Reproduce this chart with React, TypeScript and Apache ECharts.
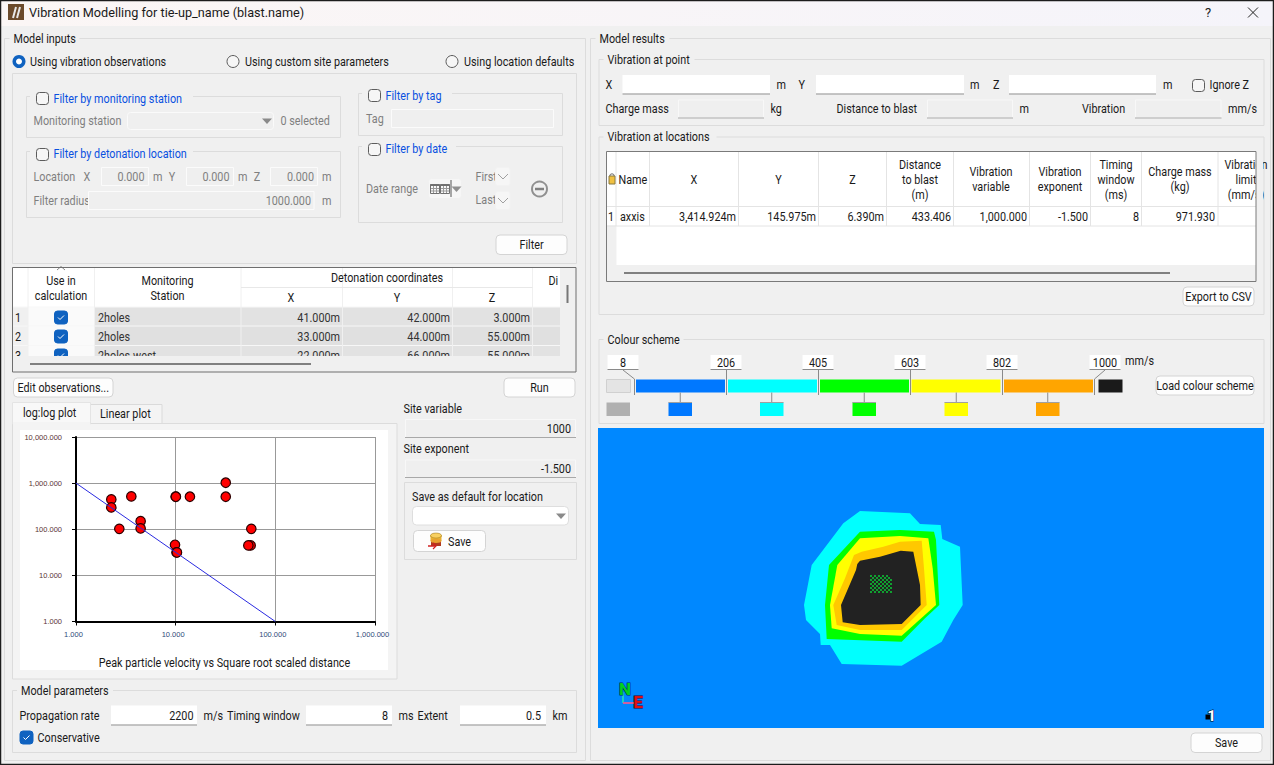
import React, { useEffect, useRef } from "react";
import * as echarts from "echarts";

// ---- chart data ----
const plotTitle = "Peak particle velocity vs Square root scaled distance";
const scaledDistance = [2.26, 2.26, 2.72, 3.59, 4.45, 4.45, 10, 10.05, 13.9, 31.8, 31.8, 57.4, 56.5, 53.6, 9.85, 10.2, 10.3];
const particleVelocity = [444, 298, 102, 516, 150, 104, 507, 507, 507, 1020, 507, 102, 44.6, 44.6, 46, 31.4, 31.4];
const fitDistance = [1, 100];
const fitVelocity = [1000, 1];

const schemeValues = ["8", "206", "405", "603", "802", "1000"];
const schemeColours = ["#0078ff", "#00ffff", "#00ff00", "#ffff00", "#ffa500"];

const cyanBand = [[262, 83], [312, 85.3], [322, 96], [342.7, 97], [344.3, 111], [362, 118.7], [364.7, 177], [355.3, 192], [343.7, 213.7], [303.7, 237.7], [243.7, 236], [232, 217], [222.7, 217], [222, 206], [208, 192], [206, 177], [213.7, 137], [245.3, 95.3]];
const greenBand = [[262, 103.7], [302, 102], [336, 103.7], [338, 112], [341.3, 177], [327, 190.3], [303.7, 213.7], [228.7, 211], [227, 177], [231, 137]];
const yellowBand = [[262, 110.3], [302, 108], [330.3, 110.3], [334.7, 140.3], [338, 177], [303.7, 207.7], [262, 206], [233.7, 200.3], [232, 177], [239.3, 137]];
const orangeBand = [[263.7, 123.7], [285.3, 118.7], [302, 113.7], [323.7, 112.7], [326, 140.3], [328.7, 177], [303.7, 202], [262, 202], [238.7, 197], [235.3, 177], [247, 150.3], [256, 127]];
const darkBand = [[262, 132.7], [282, 128.7], [302.7, 122.7], [315.3, 123.7], [322, 157], [322.7, 177], [303.7, 196], [262, 197], [244.7, 194.3], [243, 177], [258, 142], [259.3, 136]];
const contourBands = [cyanBand, greenBand, yellowBand, orangeBand, darkBand];
const contourColours = ["#00ffff", "#00ff00", "#ffff00", "#ffc800", "#222222"];

const holeRows = [
  "x.x.x.x.x..",
  ".x.x.x.x.x.",
  "x.x.x.x.x.x",
  ".x.x.x.x.x.",
  "x.x.x.x.x.x",
  ".x.x.x.x.x.",
  "x.x.x.x.x.x",
  ".x.x.x.x.x.",
  "x.x.x.x.x.x",
];

const stationRows = [
  ["1", "2holes", "41.000m", "42.000m", "3.000m"],
  ["2", "2holes", "33.000m", "44.000m", "55.000m"],
  ["3", "2holes-west", "22.000m", "66.000m", "55.000m"],
];
const locationRow = ["1", "axxis", "3,414.924m", "145.975m", "6.390m", "433.406", "1,000.000", "-1.500", "8", "971.930"];

const FONT = "Roboto";
const PANEL = "#f0f0f0";
const TEXT = "#1a1a1a";
const GREY = "#7f7f7f";
const BLUE = "#0a50e0";
const TICK = "#0f62c0";
const NARROW = 0.9;

function buildGraphic() {
  const g: any[] = [];
  const rect = (x1: number, y1: number, x2: number, y2: number, fill: string, stroke?: string, r = 0, lineWidth = 1) =>
    g.push({ type: "rect", silent: true, shape: { x: x1, y: y1, width: x2 - x1, height: y2 - y1, r }, style: { fill, stroke: stroke || "none", lineWidth } });
  const line = (x1: number, y1: number, x2: number, y2: number, stroke: string, lineWidth = 1) =>
    g.push({ type: "line", silent: true, shape: { x1, y1, x2, y2 }, style: { stroke, lineWidth } });
  const t = (x: number, y: number, text: string, fill = TEXT, align = "left", fontSize = 12, extra: any = {}, scaleX = NARROW) =>
    g.push({ type: "text", silent: true, x, y, scaleX, style: { text, fill, align, verticalAlign: "middle", fontSize, fontFamily: FONT, ...extra } });
  const frame = (x1: number, y1: number, x2: number, y2: number) => rect(x1 + 0.5, y1 + 0.5, x2 + 0.5, y2 + 0.5, "none", "#dcdcdc");
  const group = (x1: number, y1: number, x2: number, y2: number, label: string, lx: number, lw: number, ly: number) => {
    frame(x1, y1, x2, y2);
    rect(lx - 4, y1 - 2, lx + lw + 4, y1 + 3, PANEL);
    t(lx, ly, label);
  };
  const input = (x1: number, y1: number, x2: number, y2: number, value = "", rx?: number) => {
    rect(x1, y1, x2, y2, "#ffffff");
    line(x1, y2 - 0.5, x2, y2 - 0.5, "#8a8a8a");
    if (value) t(rx ?? x2 - 4, (y1 + y2) / 2, value, TEXT, "right");
  };
  const readonly = (x1: number, y1: number, x2: number, y2: number, value = "", rx?: number) => {
    rect(x1 + 0.5, y1 + 0.5, x2 - 0.5, y2 - 0.5, "#efefef", "#f8f8f8");
    line(x1, y2 - 0.5, x2, y2 - 0.5, "#a8a8a8");
    if (value) t(rx ?? x2 - 4, (y1 + y2) / 2, value, TEXT, "right");
  };
  const disabledInput = (x1: number, y1: number, x2: number, y2: number, value = "", rx?: number) => {
    rect(x1 + 0.5, y1 + 0.5, x2 - 0.5, y2 - 0.5, "#efefef", "#fbfbfb");
    if (value) t(rx ?? x2 - 4, (y1 + y2) / 2, value, GREY, "right");
  };
  const button = (x1: number, y1: number, x2: number, y2: number, label: string) => {
    rect(x1 + 0.5, y1 + 0.5, x2 - 0.5, y2 - 0.5, "#fdfdfd", "#d4d4d4", 4);
    t((x1 + x2) / 2, (y1 + y2) / 2, label, TEXT, "center");
  };
  const checkbox = (x: number, y: number, checked: boolean) => {
    if (checked) {
      rect(x, y, x + 13, y + 13, TICK, TICK, 3);
      g.push({ type: "polyline", silent: true, shape: { points: [[x + 3.5, y + 6.5], [x + 5.5, y + 8.5], [x + 9.5, y + 4.5]] }, style: { stroke: "#ffffff", fill: "none", lineWidth: 1 } });
    } else rect(x + 0.5, y + 0.5, x + 12.5, y + 12.5, "#f6f6f6", "#5c5c5c", 3);
  };
  const radio = (cx: number, cy: number, on: boolean) => {
    if (on) {
      g.push({ type: "circle", silent: true, shape: { cx, cy, r: 6.5 }, style: { fill: TICK } });
      g.push({ type: "circle", silent: true, shape: { cx, cy, r: 3 }, style: { fill: "#ffffff" } });
    } else g.push({ type: "circle", silent: true, shape: { cx, cy, r: 6 }, style: { fill: "#f6f6f6", stroke: "#5c5c5c" } });
  };
  const arrow = (cx: number, cy: number, fill = "#8a8a8a") =>
    g.push({ type: "polygon", silent: true, shape: { points: [[cx - 5, cy - 2.5], [cx + 5, cy - 2.5], [cx, cy + 3]] }, style: { fill } });

  // Title bar and window border
  g.push({ type: "rect", silent: true, shape: { x: 0, y: 0, width: 1274, height: 26 }, style: { fill: { type: "linear", x: 0, y: 0, x2: 1, y2: 0, colorStops: [{ offset: 0, color: "#fbf6f5" }, { offset: 1, color: "#f5f4fa" }] } } });
  rect(8, 4, 24, 20, "#6b4a2b");
  line(13, 18, 16, 7, "#e8e8e8", 2);
  line(17, 18, 20, 7, "#e8e8e8", 2);
  t(29, 13, "Vibration Modelling for tie-up_name (blast.name)", TEXT, "left", 12.5, {}, 1.015);
  t(1208, 12, "?", TEXT, "center", 13, {}, 1);
  line(1248, 7.5, 1258, 17.5, "#222222");
  line(1258, 7.5, 1248, 17.5, "#222222");

  // Main frames
  group(4, 38, 585, 760, "Model inputs", 13.5, 62, 39);
  group(590, 38, 1270, 760, "Model results", 599.5, 66, 39);

  // Source radios
  radio(19, 61.5, true);
  t(30, 62, "Using vibration observations");
  radio(233, 61.5, false);
  t(245, 62, "Using custom site parameters");
  radio(452, 61.5, false);
  t(464, 62, "Using location defaults");

  // Filter panel
  frame(12, 73, 576, 263);
  group(26, 96, 340, 137, "", 34, 155, 99);
  rect(32, 94, 188, 100, PANEL);
  checkbox(36, 92, false);
  t(53.5, 99, "Filter by monitoring station", BLUE);
  t(33.5, 121, "Monitoring station", GREY);
  rect(127.5, 112.5, 273.5, 129.5, "#efefef", "#fafafa", 3);
  arrow(267, 121);
  t(280.5, 121, "0 selected", GREY);

  group(26, 151, 340, 217, "", 34, 155, 154);
  rect(32, 149, 192, 155, PANEL);
  checkbox(36, 148, false);
  t(53.5, 154, "Filter by detonation location", BLUE);
  t(33.5, 177, "Location", GREY);
  t(87, 177, "X", GREY, "center");
  disabledInput(101, 167, 149, 186, "0.000", 144.5);
  t(153, 177, "m", GREY);
  t(172, 177, "Y", GREY, "center");
  disabledInput(186, 167, 234, 186, "0.000", 229.5);
  t(238, 177, "m", GREY);
  t(257, 177, "Z", GREY, "center");
  disabledInput(270, 167, 318, 186, "0.000", 314);
  t(322, 177, "m", GREY);
  t(33.5, 201, "Filter radius", GREY);
  disabledInput(88, 191, 314.5, 210, "1000.000", 311);
  t(322, 201, "m", GREY);

  group(358, 93, 562, 135, "", 366, 80, 96);
  rect(364, 91, 452, 97, PANEL);
  checkbox(368, 89, false);
  t(385.5, 96, "Filter by tag", BLUE);
  t(366, 119, "Tag", GREY);
  disabledInput(391, 109, 554, 128);

  group(358, 146, 562, 222, "", 366, 80, 149);
  rect(364, 144, 456, 150, PANEL);
  checkbox(368, 143, false);
  t(385.5, 149, "Filter by date", BLUE);
  t(366, 189, "Date range", GREY);
  rect(428.5, 178.5, 461.5, 198.5, "#f6f6f6", "#f0f0f0", 3);
  for (const cx of [430, 440]) {
    rect(cx + 0.5, 184.5, cx + 9.5, 193.5, "#f8f8f8", "#707070");
    line(cx + 0.5, 185, cx + 9.5, 185, "#707070", 2);
    line(cx + 3.5, 186, cx + 3.5, 193, "#999999");
    line(cx + 6.5, 186, cx + 6.5, 193, "#999999");
    line(cx + 1, 188.5, cx + 9, 188.5, "#999999");
    line(cx + 1, 191, cx + 9, 191, "#999999");
  }
  line(451, 180, 451, 197, "#555555");
  arrow(456.5, 189, "#909090");
  t(475.5, 177, "First", GREY);
  t(475.5, 200, "Last", GREY);
  for (const y of [167, 191]) {
    rect(495.5, y + 0.5, 510, y + 18.5, "#f6f6f6", "#f2f2f2", 2);
    g.push({ type: "polyline", silent: true, shape: { points: [[498, y + 7], [503, y + 12], [508, y + 7]] }, style: { stroke: "#a0a0a0", fill: "none", lineWidth: 1 } });
  }
  g.push({ type: "circle", silent: true, shape: { cx: 539.5, cy: 189, r: 7.5 }, style: { fill: "#f0f0f0", stroke: "#909090", lineWidth: 2 } });
  line(535, 189, 544, 189, "#808080", 2.5);
  button(495.5, 234.5, 567.5, 255, "Filter");

  // Observations table
  rect(12.5, 267.5, 576, 372, PANEL);
  rect(13, 268, 560, 307, "#ffffff");
  rect(13, 307, 28, 356, "#f0f0f0");
  rect(28, 307, 94.5, 356, "#fafafa");
  rect(94.5, 307, 560, 356, "#e2e2e2");
  rect(94.5, 326, 560, 345.5, "#e0e0e0");
  for (const y of [307, 326, 345.5]) line(13, y, 560, y, "#f7f7f7");
  for (const x of [28, 94.5, 241, 342.5, 452.5, 532.5]) line(x, 268, x, 356, "#f0f0f0");
  line(241, 287.5, 532.5, 287.5, "#e8e8e8");
  g.push({ type: "polyline", silent: true, shape: { points: [[57, 270], [61, 266.5], [65, 270]] }, style: { stroke: "#8a8a8a", fill: "none", lineWidth: 1 } });
  t(61, 281, "Use in", TEXT, "center");
  t(61, 296, "calculation", TEXT, "center");
  t(167.5, 281, "Monitoring", TEXT, "center");
  t(167.5, 296, "Station", TEXT, "center");
  t(387, 278, "Detonation coordinates", TEXT, "center");
  t(291, 298, "X", TEXT, "center");
  t(397, 298, "Y", TEXT, "center");
  t(492, 298, "Z", TEXT, "center");
  t(548.5, 281, "Di");
  stationRows.forEach((row, i) => {
    const y = 317.5 + i * 19;
    t(15, y, row[0]);
    checkbox(54.5, y - 6.5, true);
    t(98, y, row[1], "#333333");
    t(340, y, row[2], "#333333", "right");
    t(450, y, row[3], "#333333", "right");
    t(530, y, row[4], "#333333", "right");
  });
  rect(13, 356, 576, 372, PANEL);
  rect(560, 268, 576, 372, PANEL);
  rect(566.5, 285, 568.5, 303, "#777777");
  rect(30, 363, 311, 365, "#808080");
  rect(12.5, 267.5, 576, 372, "none", "#6e6e6e");
  button(13, 377.5, 113.5, 397.5, "Edit observations...");
  button(503.5, 377.5, 575.5, 397.5, "Run");

  // Plot tabs
  rect(90.5, 404.5, 162, 423.5, "#f4f4f4", "#dadada");
  t(100, 414, "Linear plot");
  rect(12.5, 423.5, 397, 679, "#f4f4f4", "#dcdcdc");
  rect(12.5, 402.5, 90.5, 424, "#f8f8f8", "#e4e4e4");
  rect(13, 422, 90, 425, "#f4f4f4");
  t(23, 413, "log:log plot");
  rect(20, 430, 388, 670, "#ffffff");
  t(224.5, 663, plotTitle, TEXT, "center");

  // Site parameters
  t(403.5, 409, "Site variable");
  readonly(405, 419, 576, 438, "1000", 571);
  t(403.5, 449, "Site exponent");
  readonly(405, 459.5, 576, 478, "-1.500", 571);
  frame(404, 482, 576, 559);
  t(412, 497, "Save as default for location");
  rect(412.5, 506.5, 568.5, 525, "#ffffff", "#dedede", 4);
  arrow(561, 516);
  rect(413.5, 530.5, 485.5, 551.5, "#fdfdfd", "#d4d4d4", 4);
  rect(431, 536, 441, 546, "#b03a20");
  g.push({ type: "ellipse", silent: true, shape: { cx: 436, cy: 536, rx: 5.5, ry: 2.5 }, style: { fill: "#f0c040", stroke: "#8a6a20", lineWidth: 0.5 } });
  rect(430.5, 536, 441.5, 541, "#e8b030");
  g.push({ type: "ellipse", silent: true, shape: { cx: 436, cy: 541, rx: 5.5, ry: 2 }, style: { fill: "#e8a030" } });
  g.push({ type: "ellipse", silent: true, shape: { cx: 436, cy: 535.5, rx: 5.5, ry: 2.5 }, style: { fill: "#f8d060", stroke: "#a07a20", lineWidth: 0.5 } });
  line(428, 546, 436, 546, "#d02020", 1.5);
  g.push({ type: "polyline", silent: true, shape: { points: [[433, 543], [436, 546], [433, 549]] }, style: { stroke: "#d02020", fill: "none", lineWidth: 1.2 } });
  t(448, 542, "Save");

  // Model parameters
  group(12, 690, 576, 752, "Model parameters", 21, 88, 691);
  t(19.5, 716, "Propagation rate");
  input(111, 705.5, 197, 725.5, "2200", 193.5);
  t(203.5, 716, "m/s");
  t(227, 716, "Timing window");
  input(306, 705.5, 392, 725.5, "8", 388);
  t(398.5, 716, "ms");
  t(417.5, 716, "Extent");
  input(460, 705.5, 546, 725.5, "0.5", 541);
  t(552.5, 716, "km");
  checkbox(20, 731, true);
  t(37.5, 738, "Conservative");

  // Vibration at point
  group(598.5, 59, 1263.5, 125, "Vibration at point", 607.5, 83, 60);
  t(605.5, 85, "X");
  input(622.5, 75, 770, 94.5);
  t(776.5, 85, "m");
  t(798.5, 85, "Y");
  input(816, 75, 964, 94.5);
  t(970, 85, "m");
  t(993, 85, "Z");
  input(1009, 75, 1156, 94.5);
  t(1163, 85, "m");
  checkbox(1192, 79, false);
  t(1209.5, 85, "Ignore Z");
  t(605.5, 109, "Charge mass");
  readonly(678, 99.5, 764, 118.5);
  t(770.5, 109, "kg");
  t(836.5, 109, "Distance to blast");
  readonly(927, 99.5, 1013, 118.5);
  t(1019.5, 109, "m");
  t(1082, 109, "Vibration");
  readonly(1135, 99.5, 1221.5, 118.5);
  t(1228, 109, "mm/s");

  // Vibration at locations
  group(598.5, 136.5, 1263.5, 314, "Vibration at locations", 607.5, 105, 137);
  rect(607, 152, 1256, 281.5, "#ffffff");
  rect(607, 225.5, 616.5, 265, "#f0f0f0");
  rect(607, 265, 1256, 281.5, "#f0f0f0");
  const colX = [616, 649.5, 738.5, 818.5, 886.5, 953.5, 1029.5, 1090.5, 1141.5, 1218];
  for (const x of colX) line(x, 152, x, 226, "#e4e4e4");
  line(607, 206.5, 1256, 206.5, "#e4e4e4");
  line(607, 226, 1256, 226, "#e4e4e4");
  rect(609, 176, 615, 184, "#f0c040", "#8a7a40");
  g.push({ type: "arc", silent: true, shape: { cx: 612, cy: 176, r: 2.2, startAngle: Math.PI, endAngle: 0 }, style: { stroke: "#6a6a6a", fill: "none", lineWidth: 1 } });
  t(618.5, 180, "Name");
  t(694, 180, "X", TEXT, "center");
  t(778.5, 180, "Y", TEXT, "center");
  t(852.5, 180, "Z", TEXT, "center");
  ["Distance", "to blast", "(m)"].forEach((s, i) => t(920, 165 + i * 15, s, TEXT, "center"));
  ["Vibration", "variable"].forEach((s, i) => t(991, 172 + i * 15, s, TEXT, "center"));
  ["Vibration", "exponent"].forEach((s, i) => t(1060, 172 + i * 15, s, TEXT, "center"));
  ["Timing", "window", "(ms)"].forEach((s, i) => t(1116, 165 + i * 15, s, TEXT, "center"));
  ["Charge mass", "(kg)"].forEach((s, i) => t(1180, 172 + i * 15, s, TEXT, "center"));
  ["Vibration", "limit", "(mm/s)"].forEach((s, i) => t(1246, 165 + i * 15, s, TEXT, "center"));
  const rowRight = [0, 0, 736, 816, 884, 951, 1027, 1088, 1139, 1215];
  t(611, 217, locationRow[0], TEXT, "center");
  t(620, 217, locationRow[1]);
  for (let i = 2; i < locationRow.length; i++) t(rowRight[i], 217, locationRow[i], TEXT, "right");
  rect(1256, 152, 1263, 207, PANEL);
  rect(624, 272, 1170, 274, "#808080");
  rect(606.5, 151.5, 1256, 281.5, "none", "#7a7a7a");
  button(1182.5, 286.5, 1254.5, 306.5, "Export to CSV");

  // Colour scheme
  group(598.5, 339, 1263.5, 423, "Colour scheme", 607.5, 72, 340);
  const boxLeft = [607.5, 710.5, 802.5, 894.5, 986.5, 1089.5];
  const tickX = [634.5, 726.5, 818.5, 910.5, 1002.5, 1094.5];
  const barLeft = [636, 728, 820, 911.5, 1004];
  const swatchLeft = [668.5, 760, 852.5, 944.5, 1036];
  schemeValues.forEach((v, i) => {
    const bx = boxLeft[i];
    const mid = bx + 15.5;
    if (i === 0 || i === 5) {
      g.push({ type: "polyline", silent: true, shape: { points: [[mid, 370], [tickX[i], 379], [tickX[i], 395]] }, style: { stroke: "#8a8a8a", fill: "none", lineWidth: 1 } });
    } else line(tickX[i], 370, tickX[i], 395, "#8a8a8a");
    rect(bx, 355, bx + 31, 370, "#ffffff");
    line(bx, 369.5, bx + 31, 369.5, "#8a8a8a");
    t(mid, 363, v, TEXT, "center");
  });
  t(1125, 361, "mm/s");
  rect(606.5, 379.5, 630.5, 392.5, "#e4e4e4", "#d0d0d0");
  schemeColours.forEach((c, i) => {
    rect(barLeft[i], 379.5, barLeft[i] + 89, 392.5, c);
    const cx = swatchLeft[i] + 11.75;
    line(cx, 392.5, cx, 402.5, "#8a8a8a");
    rect(swatchLeft[i], 402.5, swatchLeft[i] + 23.5, 416, c);
    line(swatchLeft[i], 402.5, swatchLeft[i] + 23.5, 402.5, "#a0a0a0");
  });
  rect(1098.5, 379.5, 1122.5, 392.5, "#1a1a1a");
  rect(606.5, 402.5, 630, 416, "#b0b0b0");
  button(1155.5, 375.5, 1254.5, 395.5, "Load colour scheme");

  // Map background, compass, scale mark, save
  rect(598, 428, 1264, 728, "#0088ff");
  line(623, 692, 623, 703, "#20d0c0", 2);
  line(623, 703, 634, 703, "#d060a0", 2);
  t(625, 688.5, "N", "#00d020", "center", 17, { fontWeight: "bold", stroke: "#003070", lineWidth: 1.2 }, 1);
  t(638, 702, "E", "#e01010", "center", 17, { fontWeight: "bold", stroke: "#300030", lineWidth: 1.2 }, 1);
  rect(1205.5, 714.5, 1210, 719.5, "#000000");
  t(1211.5, 715.5, "1", "#ffffff", "center", 15, { fontWeight: "bold", stroke: "#000000", lineWidth: 1 }, 1);
  button(1190.5, 732.5, 1262.5, 753, "Save");

  // Window border
  rect(0.5, 0.5, 1273.5, 764.5, "none", "#1c1c1c", 0, 1.5);
  return g;
}

const holePoints: number[][] = [];
holeRows.forEach((row, r) => row.split("").forEach((c, k) => { if (c === "x") holePoints.push([273 + k * 2, 148 + r * 2]); }));

export default function App() {
  const ref = useRef<HTMLDivElement>(null);
  useEffect(() => {
    document.body.style.margin = "0";
    document.body.style.background = PANEL;
    const chart = echarts.init(ref.current!, null, { renderer: "svg" });
    const fmt = (v: number) => Number(v).toLocaleString("en-US", { minimumFractionDigits: 3, maximumFractionDigits: 3 });
    chart.setOption({
      animation: false,
      backgroundColor: PANEL,
      textStyle: { fontFamily: FONT },
      graphic: { elements: buildGraphic() },
      grid: [
        { left: 76, top: 437, width: 299, height: 184.5, show: true, borderColor: "#000000", borderWidth: 1.5, backgroundColor: "transparent" },
        { left: 598, top: 428, width: 666, height: 300, show: false },
      ],
      xAxis: [
        {
          type: "log", logBase: 10, min: 1, max: 1000, gridIndex: 0,
          axisLine: { show: true, onZero: false, lineStyle: { color: "#000000", width: 2 } },
          axisTick: { show: true, length: 4, lineStyle: { color: "#000000" } },
          minorTick: { show: false },
          axisLabel: { formatter: fmt, fontSize: 7.5, fontFamily: "Liberation Sans", color: "#2f4a78", margin: 9, padding: [0, 5, 0, 0], showMinLabel: true, showMaxLabel: true, hideOverlap: false },
          splitLine: { show: true, lineStyle: { color: "#999999", width: 1 } },
        },
        { type: "value", min: 0, max: 666, gridIndex: 1, show: false },
      ],
      yAxis: [
        {
          type: "log", logBase: 10, min: 1, max: 10000, gridIndex: 0,
          axisLine: { show: true, onZero: false, lineStyle: { color: "#000000", width: 2 } },
          axisTick: { show: true, length: 4, lineStyle: { color: "#000000" } },
          minorTick: { show: false },
          axisLabel: { formatter: fmt, fontSize: 7.5, fontFamily: "Liberation Sans", color: "#5a3434", margin: 14, showMinLabel: true, showMaxLabel: true, hideOverlap: false },
          splitLine: { show: true, lineStyle: { color: "#999999", width: 1 } },
        },
        { type: "value", min: 0, max: 300, inverse: true, gridIndex: 1, show: false },
      ],
      series: [
        {
          type: "line", xAxisIndex: 0, yAxisIndex: 0, silent: true, showSymbol: false,
          data: fitDistance.map((d, i) => [d, fitVelocity[i]]),
          lineStyle: { color: "#2a2ae0", width: 1 },
        },
        {
          type: "scatter", xAxisIndex: 0, yAxisIndex: 0, silent: true, symbolSize: 9.5,
          data: scaledDistance.map((d, i) => [d, particleVelocity[i]]),
          itemStyle: { color: "#ff0000", borderColor: "#2a0000", borderWidth: 1.2, opacity: 1 },
        },
        {
          type: "custom", xAxisIndex: 1, yAxisIndex: 1, silent: true, clip: false,
          data: contourBands.map((_, i) => [i]),
          encode: { x: 0 },
          renderItem: (_: any, api: any) => {
            const i = api.value(0);
            return {
              type: "polygon",
              shape: { points: contourBands[i].map((p) => api.coord(p)) },
              style: { fill: contourColours[i] },
            };
          },
        },
        {
          type: "scatter", xAxisIndex: 1, yAxisIndex: 1, silent: true, symbol: "rect", symbolSize: 2,
          data: holePoints,
          itemStyle: { color: "#10a030", opacity: 1 },
        },
      ],
    });
    return () => chart.dispose();
  }, []);
  return <div ref={ref} style={{ position: "absolute", left: 0, top: 0, width: 1274, height: 765 }} />;
}
